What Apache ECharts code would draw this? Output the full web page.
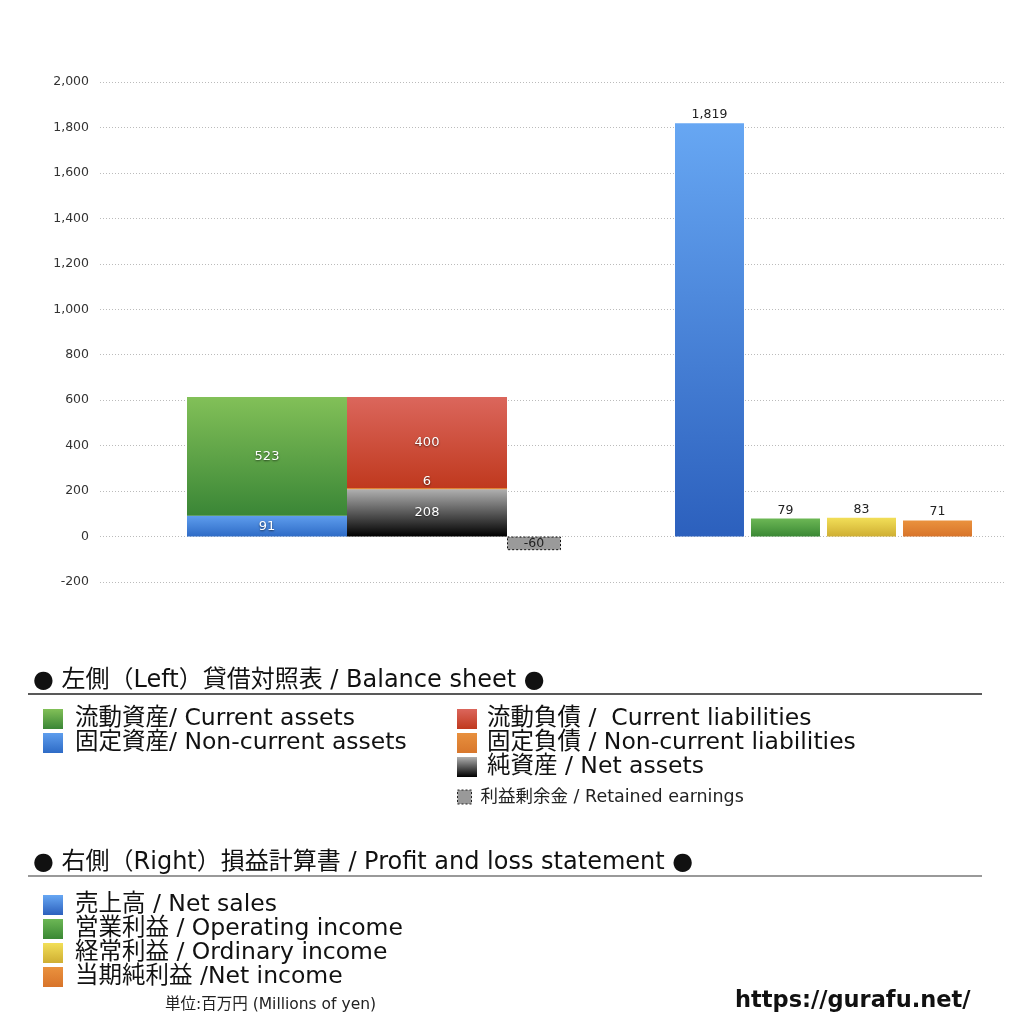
<!DOCTYPE html>
<html>
<head>
<meta charset="utf-8">
<script src="https://cdn.jsdelivr.net/npm/echarts@6/dist/echarts.min.js"></script>
<style>html,body{margin:0;padding:0;background:#fff;}#c{width:1024px;height:1024px;}</style>
</head>
<body>
<div id="c"></div>
<script>
// ---- data ----
const yTicks = { min: -200, max: 2000, interval: 200 };
const bsCategory = ['貸借対照表'];
const plCategory = ['損益計算書'];
const currentAssets = [523];
const nonCurrentAssets = [91];
const currentLiabilities = [400];
const nonCurrentLiabilities = [6];
const netAssets = [208];
const retainedEarnings = [-60];
const netSales = [1819];
const operatingIncome = [79];
const ordinaryIncome = [83];
const netIncome = [71];

const names = {
  ca: '流動資産/ Current assets',
  nca: '固定資産/ Non-current assets',
  cl: '流動負債 /  Current liabilities',
  ncl: '固定負債 / Non-current liabilities',
  na: '純資産 / Net assets',
  re: '利益剰余金 / Retained earnings',
  sales: '売上高 / Net sales',
  op: '営業利益 / Operating income',
  ord: '経常利益 / Ordinary income',
  ni: '当期純利益 /Net income'
};

const FONT = '"DejaVu Sans", "Noto Sans CJK JP", sans-serif';
function grad(top, bottom) {
  return new echarts.graphic.LinearGradient(0, 0, 0, 1, [
    { offset: 0, color: top }, { offset: 1, color: bottom }
  ]);
}
const fmt = v => Number(v).toLocaleString('en-US');

const insideLabel = {
  show: true, position: 'inside', color: '#fff', fontSize: 13, fontFamily: FONT,
  textShadowColor: 'rgba(0,0,0,0.6)', textShadowBlur: 2, textShadowOffsetY: 1,
  formatter: p => fmt(p.value)
};
const topLabel = {
  show: true, position: 'top', distance: 2, color: '#222', fontSize: 12.5, fontFamily: FONT,
  formatter: p => fmt(p.value)
};

const gridCommon = { top: 82, bottom: 442, containLabel: false };
const yCommon = {
  type: 'value', min: yTicks.min, max: yTicks.max, interval: yTicks.interval
};
const legendText = { fontSize: 23.5, lineHeight: 24, color: '#111', fontFamily: FONT };

const chart = echarts.init(document.getElementById('c'));
chart.setOption({
  backgroundColor: '#fff',
  animation: false,
  textStyle: { fontFamily: FONT },
  grid: [
    Object.assign({ left: 100, right: 19 }, gridCommon),
    Object.assign({ left: 187, width: 374 }, gridCommon),
    Object.assign({ left: 675, width: 297 }, gridCommon)
  ],
  xAxis: [
    { type: 'category', gridIndex: 0, data: [''], show: false },
    { type: 'category', gridIndex: 1, data: bsCategory, show: false },
    { type: 'category', gridIndex: 2, data: plCategory, show: false }
  ],
  yAxis: [
    Object.assign({
      gridIndex: 0,
      axisLine: { show: false }, axisTick: { show: false },
      axisLabel: { color: '#333', fontSize: 12.5, margin: 11, fontFamily: FONT, formatter: v => fmt(v) },
      splitLine: { show: true, lineStyle: { color: '#bbb', type: [1, 2], width: 1 } }
    }, yCommon),
    Object.assign({ gridIndex: 1, show: false, splitLine: { show: false } }, yCommon),
    Object.assign({ gridIndex: 2, show: false, splitLine: { show: false } }, yCommon)
  ],
  legend: [
    {
      data: [names.ca, names.nca], orient: 'vertical', left: 38, top: 702,
      itemWidth: 20, itemHeight: 20, itemGap: 0, selectedMode: false, icon: 'rect',
      textStyle: Object.assign({ padding: [0, 0, 0, 7] }, legendText)
    },
    {
      data: [names.cl, names.ncl, names.na], orient: 'vertical', left: 452, top: 702,
      itemWidth: 20, itemHeight: 20, itemGap: 0, selectedMode: false, icon: 'rect',
      textStyle: Object.assign({ padding: [0, 0, 0, 5] }, legendText)
    },
    {
      data: [{ name: names.re, itemStyle: { color: '#999', borderColor: '#222', borderWidth: 1, borderType: [2, 2] } }],
      orient: 'vertical', left: 452, top: 782,
      itemWidth: 14, itemHeight: 14, itemGap: 0, selectedMode: false, icon: 'rect',
      textStyle: { fontSize: 17.5, lineHeight: 20, color: '#222', padding: [0, 0, 0, 4], fontFamily: FONT }
    },
    {
      data: [names.sales, names.op, names.ord, names.ni], orient: 'vertical', left: 38, top: 888,
      itemWidth: 20, itemHeight: 20, itemGap: 0, selectedMode: false, icon: 'rect',
      textStyle: Object.assign({ padding: [0, 0, 0, 7] }, legendText)
    }
  ],
  series: [
    { name: names.nca, type: 'bar', xAxisIndex: 1, yAxisIndex: 1, stack: 'assets', barWidth: 160, barGap: '0%',
      data: nonCurrentAssets, itemStyle: { color: grad('#5e9ded', '#2e6bc6') }, label: insideLabel },
    { name: names.ca, type: 'bar', xAxisIndex: 1, yAxisIndex: 1, stack: 'assets', barWidth: 160, barGap: '0%',
      data: currentAssets, itemStyle: { color: grad('#82c058', '#3a8636') }, label: insideLabel },
    { name: names.na, type: 'bar', xAxisIndex: 1, yAxisIndex: 1, stack: 'liab', barWidth: 160, barGap: '0%',
      data: netAssets, itemStyle: { color: grad('#b0b0b0', '#000000') }, label: insideLabel },
    { name: names.ncl, type: 'bar', xAxisIndex: 1, yAxisIndex: 1, stack: 'liab', barWidth: 160, barGap: '0%',
      data: nonCurrentLiabilities, itemStyle: { color: grad('#e8903e', '#d8772c') },
      label: Object.assign({}, insideLabel, { position: 'top', distance: 0 }) },
    { name: names.cl, type: 'bar', xAxisIndex: 1, yAxisIndex: 1, stack: 'liab', barWidth: 160, barGap: '0%',
      data: currentLiabilities, itemStyle: { color: grad('#db665c', '#c0391e') }, label: insideLabel },
    { name: names.re, type: 'bar', xAxisIndex: 1, yAxisIndex: 1, barWidth: 54, barGap: '0%',
      data: retainedEarnings,
      itemStyle: { color: '#9a9a9a', borderColor: '#111', borderWidth: 1, borderType: [2, 2] },
      label: { show: true, position: 'inside', color: '#222', fontSize: 12.5, fontFamily: FONT, formatter: p => fmt(p.value) } },

    { name: names.sales, type: 'bar', xAxisIndex: 2, yAxisIndex: 2, barWidth: 69, barGap: '10.15%',
      data: netSales, itemStyle: { color: grad('#67a7f3', '#2c60bd') }, label: topLabel },
    { name: names.op, type: 'bar', xAxisIndex: 2, yAxisIndex: 2, barWidth: 69, barGap: '10.15%',
      data: operatingIncome, itemStyle: { color: grad('#6cb755', '#3a8834') }, label: topLabel },
    { name: names.ord, type: 'bar', xAxisIndex: 2, yAxisIndex: 2, barWidth: 69, barGap: '10.15%',
      data: ordinaryIncome, itemStyle: { color: grad('#f2df58', '#cfae32') }, label: topLabel },
    { name: names.ni, type: 'bar', xAxisIndex: 2, yAxisIndex: 2, barWidth: 69, barGap: '10.15%',
      data: netIncome, itemStyle: { color: grad('#ea923e', '#d8742a') }, label: topLabel }
  ],
  graphic: [
    { type: 'text', left: 33, top: 669, style: { text: '● 左側（Left）貸借対照表 / Balance sheet ●', fontSize: 24, fill: '#111', fontFamily: FONT } },
    { type: 'line', shape: { x1: 28, y1: 694, x2: 982, y2: 694 }, style: { stroke: '#222', lineWidth: 1.5 } },
    { type: 'text', left: 33, top: 851, style: { text: '● 右側（Right）損益計算書 / Profit and loss statement ●', fontSize: 24, fill: '#111', fontFamily: FONT } },
    { type: 'line', shape: { x1: 28, y1: 876, x2: 982, y2: 876 }, style: { stroke: '#777', lineWidth: 1.5 } },
    { type: 'text', left: 165, top: 997, style: { text: '単位:百万円 (Millions of yen)', fontSize: 15.5, fill: '#222', fontFamily: FONT } },
    { type: 'text', left: 735, top: 990, style: { text: 'https://gurafu.net/', fontSize: 22.5, fontWeight: 'bold', fill: '#111', fontFamily: '"DejaVu Sans", sans-serif' } }
  ]
});
</script>
</body>
</html>
